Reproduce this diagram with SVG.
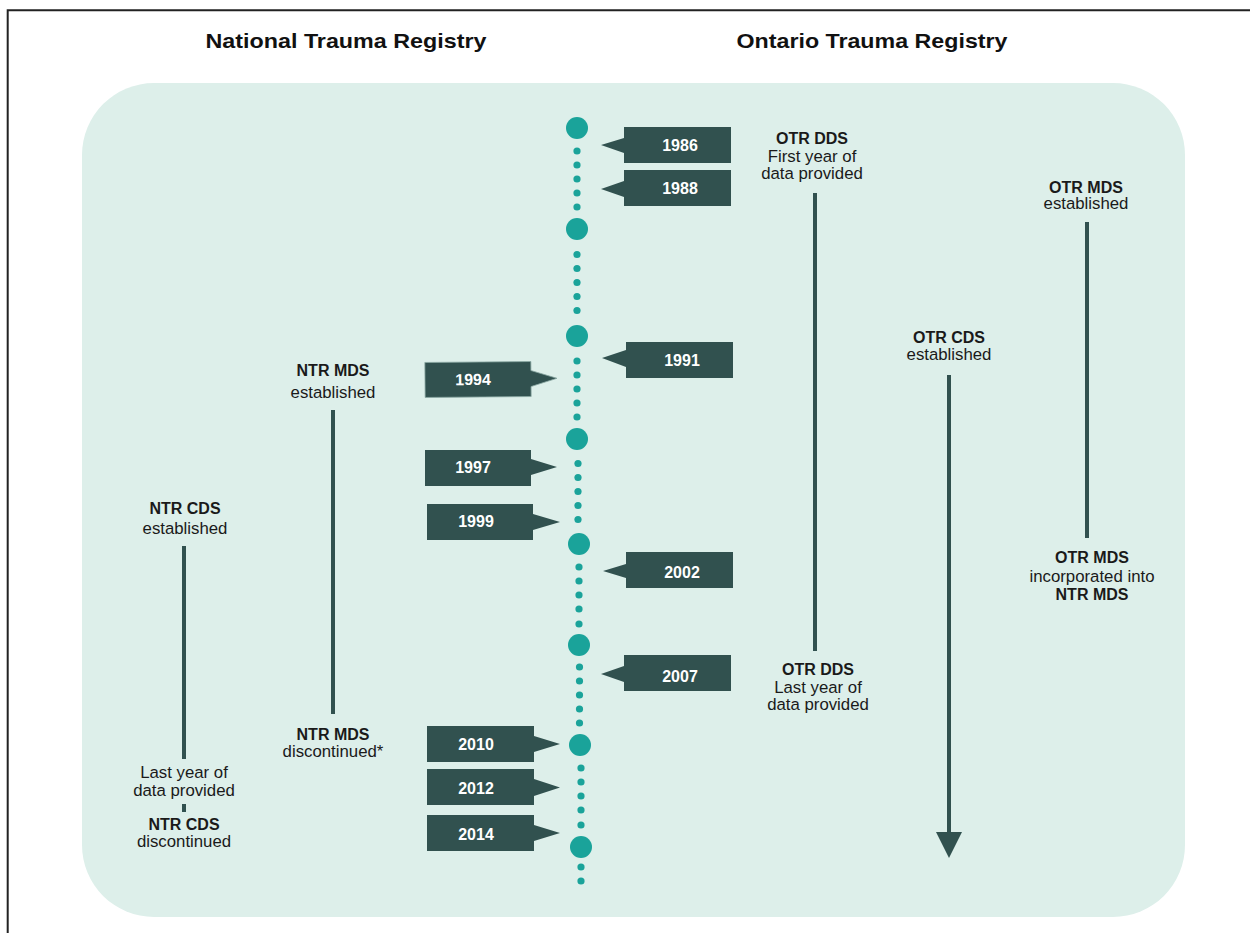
<svg xmlns="http://www.w3.org/2000/svg" width="1250" height="933" viewBox="0 0 1250 933">
<defs>
<style>
.title{font-family:"Liberation Sans",Arial,sans-serif;font-weight:bold;font-size:21px;fill:#111;text-anchor:middle}
.lbl{font-family:"Liberation Sans",Arial,sans-serif;font-size:16.8px;fill:#1a1a1a;text-anchor:middle}
.b{font-weight:bold;font-size:16px}
.yr{font-family:"Liberation Sans",Arial,sans-serif;font-weight:bold;font-size:16px;fill:#ffffff;text-anchor:middle}
.box{fill:#31514f}
.big{fill:#1aa39a}
.sm{fill:#1aa39a}
.bar{stroke:#31514f;stroke-width:4;fill:none}
</style>
</defs>
<rect width="1250" height="933" fill="#ffffff"/>
<path d="M7.7 933 V10.3 H1250" fill="none" stroke="#222" stroke-width="2"/>
<rect id="panel" x="82" y="83" width="1103" height="834" rx="72" ry="72" fill="#ddefea"/>
<g id="titles">
<text class="title" x="346" y="48" textLength="281" lengthAdjust="spacingAndGlyphs">National Trauma Registry</text>
<text class="title" x="872" y="48" textLength="271" lengthAdjust="spacingAndGlyphs">Ontario Trauma Registry</text>
</g>
<g id="timeline">
<circle class="big" cx="577" cy="128" r="11"/>
<circle class="sm" cx="577" cy="151" r="3.6"/><circle class="sm" cx="577" cy="165" r="3.6"/><circle class="sm" cx="577" cy="179" r="3.6"/><circle class="sm" cx="577" cy="193" r="3.6"/><circle class="sm" cx="577" cy="207" r="3.6"/>
<circle class="big" cx="577" cy="229" r="11"/>
<circle class="sm" cx="577" cy="254.5" r="3.6"/><circle class="sm" cx="577" cy="268.5" r="3.6"/><circle class="sm" cx="577" cy="282.5" r="3.6"/><circle class="sm" cx="577" cy="296.5" r="3.6"/><circle class="sm" cx="577" cy="310.5" r="3.6"/>
<circle class="big" cx="577" cy="336" r="11"/>
<circle class="sm" cx="577" cy="361" r="3.6"/><circle class="sm" cx="577" cy="375" r="3.6"/><circle class="sm" cx="577" cy="389" r="3.6"/><circle class="sm" cx="577" cy="403" r="3.6"/><circle class="sm" cx="577" cy="417" r="3.6"/>
<circle class="big" cx="577" cy="439" r="11"/>
<circle class="sm" cx="578" cy="463.5" r="3.6"/><circle class="sm" cx="578" cy="477.5" r="3.6"/><circle class="sm" cx="578" cy="491.5" r="3.6"/><circle class="sm" cx="578" cy="505.5" r="3.6"/><circle class="sm" cx="578" cy="519.5" r="3.6"/>
<circle class="big" cx="579" cy="544" r="11"/>
<circle class="sm" cx="579" cy="567" r="3.6"/><circle class="sm" cx="579" cy="581" r="3.6"/><circle class="sm" cx="579" cy="595" r="3.6"/><circle class="sm" cx="579" cy="609" r="3.6"/><circle class="sm" cx="579" cy="624" r="3.6"/>
<circle class="big" cx="579" cy="645" r="11"/>
<circle class="sm" cx="579.5" cy="667" r="3.6"/><circle class="sm" cx="579.5" cy="681" r="3.6"/><circle class="sm" cx="579.5" cy="695" r="3.6"/><circle class="sm" cx="579.5" cy="709" r="3.6"/><circle class="sm" cx="579.5" cy="723" r="3.6"/>
<circle class="big" cx="580" cy="745" r="11"/>
<circle class="sm" cx="581" cy="768" r="3.6"/><circle class="sm" cx="581" cy="782" r="3.6"/><circle class="sm" cx="581" cy="796" r="3.6"/><circle class="sm" cx="581" cy="810" r="3.6"/><circle class="sm" cx="581" cy="825" r="3.6"/>
<circle class="big" cx="581" cy="847" r="11"/>
<circle class="sm" cx="581" cy="867" r="3.6"/><circle class="sm" cx="581" cy="881" r="3.6"/>
</g>
<g id="y1986"><path class="box" d="M624 127 H731 V163 H624 V153 L601 145 L624 138 Z"/><text class="yr" x="680" y="151">1986</text></g>
<g id="y1988"><path class="box" d="M624 170 H731 V206 H624 V197 L601 189 L624 181 Z"/><text class="yr" x="680" y="194">1988</text></g>
<g id="y1991"><path class="box" d="M626 342 H733 V378 H626 V367 L602 358 L626 350 Z"/><text class="yr" x="682" y="366">1991</text></g>
<g id="y2002"><path class="box" d="M626 552 H733 V588 H626 V578 L603 571 L626 564 Z"/><text class="yr" x="682" y="578">2002</text></g>
<g id="y2007"><path class="box" d="M624 655 H731 V691 H624 V682 L601 674 L624 666 Z"/><text class="yr" x="680" y="682">2007</text></g>
<g id="y1994" transform="rotate(-0.5 478 379)"><path class="box" d="M425 362 H531 V371 L557 379 L531 387 V397 H425 Z" stroke="#8aa7a3" stroke-width="0.8"/><text class="yr" x="473" y="385">1994</text></g>
<g id="y1997"><path class="box" d="M425 450 H531 V459 L557 467 L531 475 V486 H425 Z"/><text class="yr" x="473" y="473">1997</text></g>
<g id="y1999"><path class="box" d="M427 504 H533 V514 L560 522 L533 530 V540 H427 Z"/><text class="yr" x="476" y="527">1999</text></g>
<g id="y2010"><path class="box" d="M427 726 H534 V736 L560 744 L534 752 V762 H427 Z"/><text class="yr" x="476" y="750">2010</text></g>
<g id="y2012"><path class="box" d="M427 769 H534 V779 L560 787.5 L534 796 V805 H427 Z"/><text class="yr" x="476" y="794">2012</text></g>
<g id="y2014"><path class="box" d="M427 815 H534 V825 L560 833 L534 841 V851 H427 Z"/><text class="yr" x="476" y="840">2014</text></g>
<g id="connectors">
<line class="bar" x1="815" y1="193" x2="815" y2="651"/>
<line class="bar" x1="1087" y1="222" x2="1087" y2="538"/>
<line class="bar" x1="949" y1="375" x2="949" y2="834" stroke-width="5"/>
<path d="M936 832 H962 L949 858 Z" fill="#31514f"/>
<line class="bar" x1="333" y1="410" x2="333" y2="714"/>
<line class="bar" x1="184" y1="546" x2="184" y2="759"/>
<line class="bar" x1="184" y1="804" x2="184" y2="812"/>
</g>
<g id="otr-dds-first"><text class="lbl b" x="812" y="144">OTR DDS</text><text class="lbl" x="812" y="161.5">First year of</text><text class="lbl" x="812" y="179">data provided</text></g>
<g id="otr-dds-last"><text class="lbl b" x="818" y="675">OTR DDS</text><text class="lbl" x="818" y="692.5">Last year of</text><text class="lbl" x="818" y="710">data provided</text></g>
<g id="otr-mds-est"><text class="lbl b" x="1086" y="192.5">OTR MDS</text><text class="lbl" x="1086" y="209">established</text></g>
<g id="otr-mds-inc"><text class="lbl b" x="1092" y="562.5">OTR MDS</text><text class="lbl" x="1092" y="582">incorporated into</text><text class="lbl b" x="1092" y="600">NTR MDS</text></g>
<g id="otr-cds-est"><text class="lbl b" x="949" y="343">OTR CDS</text><text class="lbl" x="949" y="360">established</text></g>
<g id="ntr-mds-est"><text class="lbl b" x="333" y="376">NTR MDS</text><text class="lbl" x="333" y="398">established</text></g>
<g id="ntr-mds-disc"><text class="lbl b" x="333" y="740">NTR MDS</text><text class="lbl" x="333" y="757">discontinued*</text></g>
<g id="ntr-cds-est"><text class="lbl b" x="185" y="514">NTR CDS</text><text class="lbl" x="185" y="534">established</text></g>
<g id="ntr-cds-last"><text class="lbl" x="184" y="778">Last year of</text><text class="lbl" x="184" y="796">data provided</text></g>
<g id="ntr-cds-disc"><text class="lbl b" x="184" y="830">NTR CDS</text><text class="lbl" x="184" y="847">discontinued</text></g>
</svg>
